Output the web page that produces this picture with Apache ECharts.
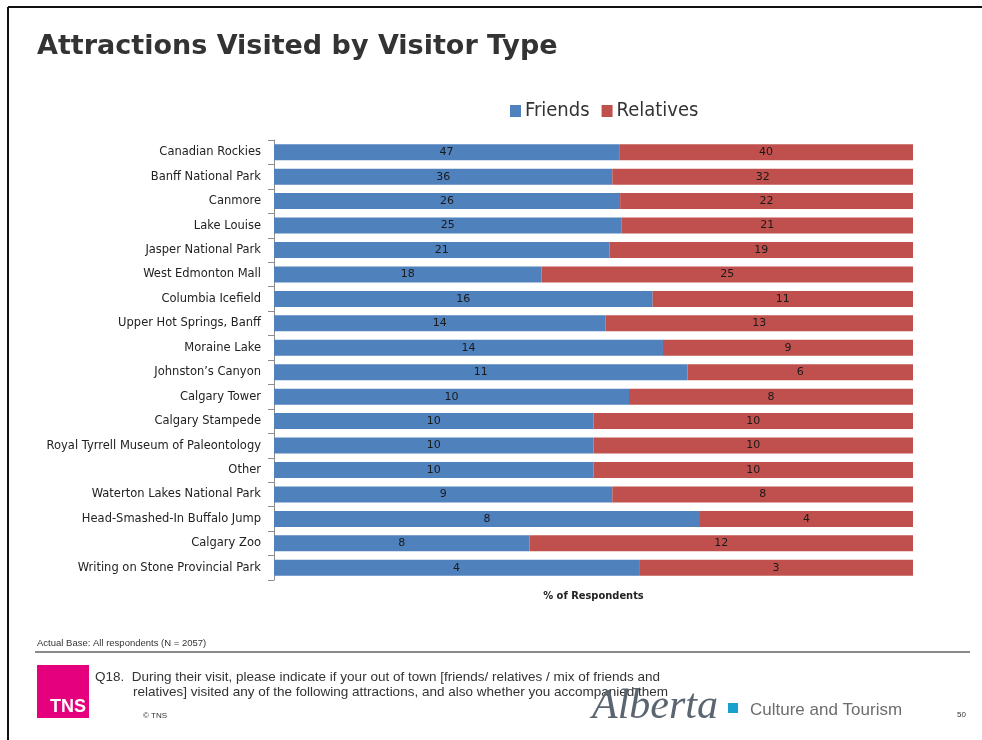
<!DOCTYPE html>
<html>
<head>
<meta charset="utf-8">
<title>Attractions Visited by Visitor Type</title>
<script src="https://cdn.jsdelivr.net/npm/echarts@6/dist/echarts.min.js"></script>
<style>
  html, body { margin: 0; padding: 0; background: #fff; }
  #chart { width: 982px; height: 740px; }
</style>
</head>
<body>
<div id="chart"></div>
<script>
// Attractions, top to bottom
const categories = [
  'Canadian Rockies', 'Banff National Park', 'Canmore', 'Lake Louise',
  'Jasper National Park', 'West Edmonton Mall', 'Columbia Icefield',
  'Upper Hot Springs, Banff', 'Moraine Lake', 'Johnston\u2019s Canyon',
  'Calgary Tower', 'Calgary Stampede', 'Royal Tyrrell Museum of Paleontology',
  'Other', 'Waterton Lakes National Park', 'Head-Smashed-In Buffalo Jump',
  'Calgary Zoo', 'Writing on Stone Provincial Park'
];

// % of respondents who visited, by visitor type
const friends   = [47, 36, 26, 25, 21, 18, 16, 14, 14, 11, 10, 10, 10, 10, 9, 8, 8, 4];
const relatives = [40, 32, 22, 21, 19, 25, 11, 13, 9, 6, 8, 10, 10, 10, 8, 4, 12, 3];

const seriesNames = ['Friends', 'Relatives'];
const seriesColors = ['#4F81BD', '#C0504D'];

// each bar is split by its share of the row total
const raw = [friends, relatives];
const share = raw.map(arr => arr.map((v, i) => v / (friends[i] + relatives[i]) * 100));

const labelFont = "'DejaVu Sans', sans-serif";
const legendFont = "'DejaVu Sans Condensed', 'DejaVu Sans', sans-serif";
const footFont = "'Liberation Sans Narrow', 'Liberation Sans', Arial, sans-serif";

const chart = echarts.init(document.getElementById('chart'), null, { renderer: 'canvas' });

chart.setOption({
  animation: false,
  backgroundColor: '#ffffff',
  title: {
    text: 'Attractions Visited by Visitor Type',
    left: 32,
    top: 28,
    textStyle: {
      fontFamily: "'DejaVu Sans', sans-serif",
      fontWeight: 'bold',
      fontSize: 27,
      color: '#333333'
    }
  },
  legend: {
    left: 505,
    top: 96,
    itemWidth: 11,
    itemHeight: 12,
    itemGap: 12,
    icon: 'rect',
    textStyle: { fontFamily: legendFont, fontSize: 20, color: '#333333', padding: [0, 0, 0, -1] },
    data: seriesNames
  },
  grid: { left: 274, right: 69, top: 140, bottom: 160 },
  xAxis: {
    type: 'value',
    min: 0,
    max: 100,
    name: '% of Respondents',
    nameLocation: 'middle',
    nameGap: 11,
    nameTextStyle: { fontFamily: legendFont, fontWeight: 'bold', fontSize: 11, color: '#222222' },
    axisLine: { show: false },
    axisTick: { show: false },
    axisLabel: { show: false },
    splitLine: { show: false }
  },
  yAxis: {
    type: 'category',
    inverse: true,
    data: categories,
    axisLine: { show: true, lineStyle: { color: '#8c8c8c', width: 1 } },
    axisTick: { show: true, length: 6, lineStyle: { color: '#8c8c8c' } },
    axisLabel: { fontFamily: labelFont, fontSize: 11.5, color: '#222222', margin: 13 },
    splitLine: { show: false }
  },
  series: seriesNames.map((name, s) => ({
    name: name,
    type: 'bar',
    stack: 'total',
    barWidth: 16,
    itemStyle: { color: seriesColors[s] },
    label: {
      show: true,
      position: 'inside',
      fontFamily: labelFont,
      fontSize: 11,
      color: '#1a1a1a',
      formatter: p => String(raw[s][p.dataIndex])
    },
    data: share[s]
  })),
  graphic: [
    // slide frame
    { type: 'line', shape: { x1: 8, y1: 7, x2: 982, y2: 7 }, style: { stroke: '#111', lineWidth: 2 } },
    { type: 'line', shape: { x1: 8, y1: 7, x2: 8, y2: 740 }, style: { stroke: '#111', lineWidth: 2 } },
    // footer
    { type: 'text', x: 37, y: 643, style: { text: 'Actual Base: All respondents (N = 2057)', font: "9.5px " + footFont, fill: '#333', textVerticalAlign: 'middle' } },
    { type: 'line', shape: { x1: 35, y1: 652, x2: 970, y2: 652 }, style: { stroke: '#8a8a8a', lineWidth: 2 } },
    { type: 'rect', shape: { x: 37, y: 665, width: 52, height: 53 }, style: { fill: '#E5007D' } },
    { type: 'text', x: 50, y: 716, style: { text: 'TNS', font: "bold 18px " + footFont, fill: '#ffffff', textVerticalAlign: 'bottom' } },
    { type: 'text', x: 95, y: 677, style: { text: 'Q18.  During their visit, please indicate if your out of town [friends/ relatives / mix of friends and', font: "13.5px " + footFont, fill: '#333', textVerticalAlign: 'middle' } },
    { type: 'text', x: 133, y: 692, style: { text: 'relatives] visited any of the following attractions, and also whether you accompanied them', font: "13.5px " + footFont, fill: '#333', textVerticalAlign: 'middle' } },
    { type: 'text', x: 143, y: 716, style: { text: '\u00A9 TNS', font: "8px " + footFont, fill: '#333', textVerticalAlign: 'middle' } },
    { type: 'text', x: 592, y: 707, style: { text: 'Alberta', font: "italic 42px 'Liberation Serif', 'DejaVu Serif', serif", fill: '#5b6570', textVerticalAlign: 'middle' } },
    { type: 'rect', shape: { x: 728, y: 703, width: 10, height: 10 }, style: { fill: '#1aa0cc' } },
    { type: 'text', x: 750, y: 710, style: { text: 'Culture and Tourism', font: "17px 'Liberation Sans', Arial, sans-serif", fill: '#6d6d6d', textVerticalAlign: 'middle' } },
    { type: 'text', x: 957, y: 715, style: { text: '50', font: "8px " + footFont, fill: '#333', textVerticalAlign: 'middle' } }
  ]
});
</script>
</body>
</html>
